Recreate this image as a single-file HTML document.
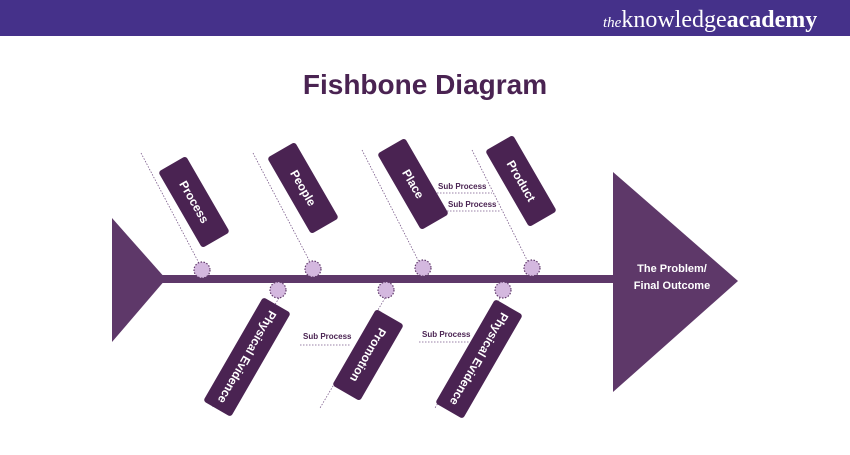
<!DOCTYPE html>
<html><head><meta charset="utf-8"><style>
body{margin:0;width:850px;height:450px;overflow:hidden;background:#fff;font-family:"Liberation Sans",sans-serif}
</style></head><body>
<svg width="850" height="450" xmlns="http://www.w3.org/2000/svg" font-family="Liberation Sans, sans-serif">
<rect x="0" y="0" width="850" height="36" fill="#45318a"/>
<text x="603" y="27" font-family="Liberation Serif, serif" font-size="24" fill="#fff"><tspan font-style="italic" font-size="15">the</tspan>knowledge<tspan font-weight="bold">academy</tspan></text>
<text x="425" y="94" text-anchor="middle" font-size="28" font-weight="bold" fill="#4a2352">Fishbone Diagram</text>
<g stroke="#7a5a8a" stroke-width="0.8" stroke-dasharray="1.5,1.5" fill="none">
<line x1="141" y1="153" x2="200" y2="265"/>
<line x1="253" y1="153" x2="310" y2="262"/>
<line x1="362" y1="150" x2="419" y2="262"/>
<line x1="472" y1="150" x2="528" y2="262"/>
<line x1="279" y1="298" x2="212" y2="408"/>
<line x1="385" y1="298" x2="320" y2="408"/>
<line x1="500" y1="298" x2="435" y2="408"/>
<line x1="437" y1="193" x2="492" y2="193"/>
<line x1="447" y1="211" x2="501" y2="211"/>
<line x1="300" y1="345" x2="351" y2="345"/>
<line x1="419" y1="342" x2="470" y2="342"/>
</g>
<polygon points="112,218 166,279 112,342" fill="#5e3869"/>
<rect x="160" y="275" width="460" height="8" fill="#5e3869"/>
<polygon points="613,172 738,281 613,392" fill="#5e3869"/>
<text x="672" y="272" text-anchor="middle" font-size="11" font-weight="bold" fill="#fff">The Problem/</text>
<text x="672" y="289" text-anchor="middle" font-size="11" font-weight="bold" fill="#fff">Final Outcome</text>
<g fill="#d4b8df" stroke="#5e3869" stroke-width="1.2" stroke-dasharray="1.5,1.5">
<circle cx="202" cy="270" r="8"/><circle cx="313" cy="269" r="8"/><circle cx="423" cy="268" r="8"/><circle cx="532" cy="268" r="8"/>
<circle cx="278" cy="290" r="8"/><circle cx="386" cy="290" r="8"/><circle cx="503" cy="290" r="8"/>
</g>
<g fill="#4a2352">
<g transform="translate(194,202) rotate(60)"><rect x="-44" y="-16" width="88" height="32" rx="3"/><text y="4" text-anchor="middle" font-size="12" font-weight="bold" fill="#fff">Process</text></g>
<g transform="translate(303,188) rotate(60)"><rect x="-44" y="-16" width="88" height="32" rx="3"/><text y="4" text-anchor="middle" font-size="12" font-weight="bold" fill="#fff">People</text></g>
<g transform="translate(413,184) rotate(60)"><rect x="-44" y="-16" width="88" height="32" rx="3"/><text y="4" text-anchor="middle" font-size="12" font-weight="bold" fill="#fff">Place</text></g>
<g transform="translate(521,181) rotate(60)"><rect x="-44" y="-16" width="88" height="32" rx="3"/><text y="4" text-anchor="middle" font-size="12" font-weight="bold" fill="#fff">Product</text></g>
<g transform="translate(247,357) rotate(120)"><rect x="-60" y="-16" width="120" height="32" rx="3"/><text y="4" text-anchor="middle" font-size="12" font-weight="bold" fill="#fff">Physical Evidence</text></g>
<g transform="translate(368,355) rotate(120)"><rect x="-44" y="-16" width="88" height="32" rx="3"/><text y="4" text-anchor="middle" font-size="12" font-weight="bold" fill="#fff">Promotion</text></g>
<g transform="translate(479,359) rotate(120)"><rect x="-60" y="-16" width="120" height="32" rx="3"/><text y="4" text-anchor="middle" font-size="12" font-weight="bold" fill="#fff">Physical Evidence</text></g>
</g>
<g font-size="8" font-weight="bold" fill="#4a2352">
<text x="438" y="189">Sub Process</text>
<text x="448" y="207">Sub Process</text>
<text x="303" y="339">Sub Process</text>
<text x="422" y="337">Sub Process</text>
</g>
</svg>
</body></html>
